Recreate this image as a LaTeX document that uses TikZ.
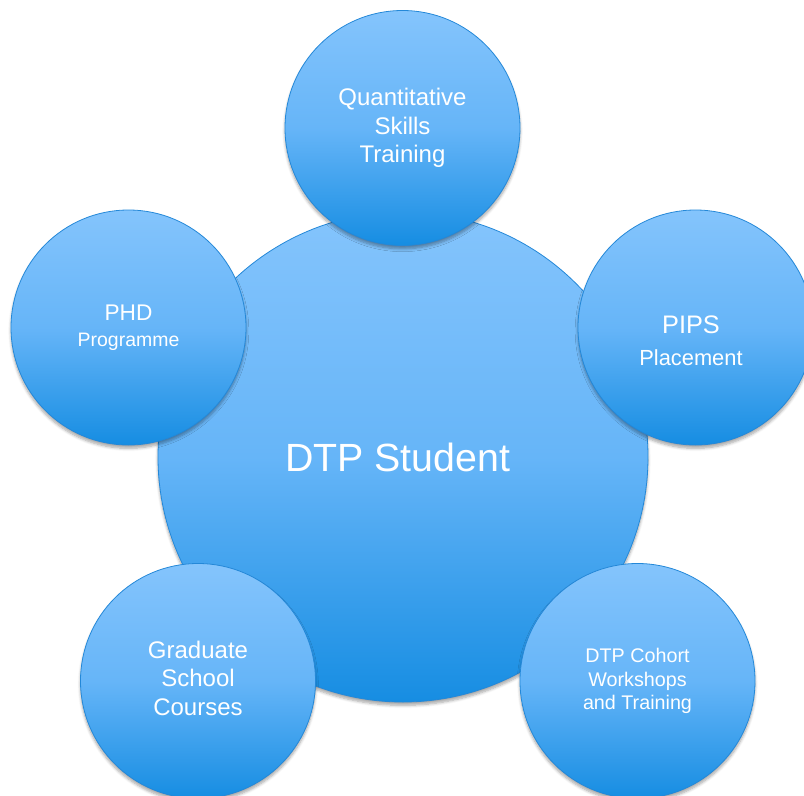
\documentclass[tikz,border=0pt]{standalone}
\usepackage{fontspec}
\setmainfont{Liberation Sans}
\usetikzlibrary{shadows.blur}

\definecolor{bubtop}{HTML}{84C4FC}
\definecolor{bubmid}{HTML}{66B5F8}
\definecolor{bubbot}{HTML}{168DE2}
\definecolor{bubedge}{HTML}{2488D8}

\begin{document}
\begin{tikzpicture}[x=0.75pt,y=-0.75pt,
    disc/.style={circle,inner sep=0pt,draw=bubedge,line width=0.6pt,
      top color=bubtop,bottom color=bubbot,middle color=bubmid,
      text=white,align=center,
      blur shadow={shadow xshift=0pt,shadow yshift=-2.5pt,shadow blur steps=6,shadow opacity=35}},
    hub/.style={disc,minimum size=367.5pt},
    spoke/.style={disc,minimum size=176.25pt}]
  \useasboundingbox (0,0) rectangle (804,796);

  % centre
  \node[hub,
        label={[text=white,font=\fontsize{29.5}{34}\selectfont,xshift=-4pt]center:DTP Student}]
      (student) at (403,457) {};

  % the five around it
  \node[spoke,font=\fontsize{18}{21.4}\selectfont] (quant) at (402.5,128)
      {Quantitative\\Skills\\Training};
  \node[spoke,font=\fontsize{14.6}{19.5}\selectfont] (phd) at (128.5,327.5)
      {{\fontsize{17}{19.5}\selectfont PHD}\\Programme};
  \node[spoke,font=\fontsize{16.4}{24}\selectfont,
        label={[text=white,align=center,font=\fontsize{16.4}{24}\selectfont,
                xshift=-3.4pt,yshift=-10pt]center:{\fontsize{19}{24}\selectfont PIPS}\\Placement}]
      (pips) at (695.5,327.5) {};
  \node[spoke,font=\fontsize{18}{21.4}\selectfont,
        label={[text=white,align=center,font=\fontsize{18}{21.4}\selectfont,
                yshift=2pt]center:Graduate\\School\\Courses}]
      (grad) at (198,681) {};
  \node[spoke,font=\fontsize{14.8}{17.6}\selectfont] (cohort) at (637.5,681)
      {DTP Cohort\\Workshops\\and Training};
\end{tikzpicture}
\end{document}
